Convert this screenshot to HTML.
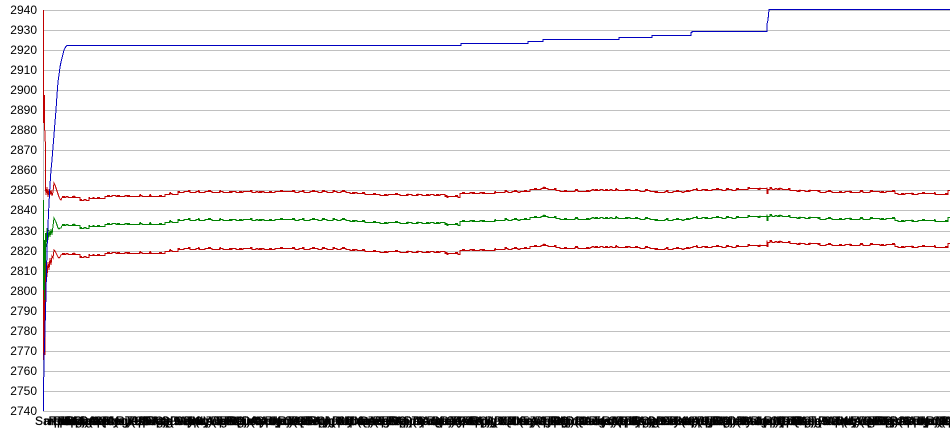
<!DOCTYPE html>
<html>
<head>
<meta charset="utf-8">
<style>
html,body{margin:0;padding:0;background:#fff;}
body{width:950px;height:435px;overflow:hidden;}
svg{display:block;font-family:"Liberation Sans",Arial,sans-serif;}
</style>
</head>
<body>
<svg width="950" height="435" viewBox="0 0 950 435" xmlns="http://www.w3.org/2000/svg">
<defs>
<clipPath id="plot"><rect x="42" y="9" width="908" height="404"/></clipPath>
<path id="u1" fill="none" d="M62,197.5 H66 V196.5 H68 V197.5 H74 V196.5 H75 V197.5 H80 V200.5 H84 V199.5 H86 V200.5 H89 V198.5 H93 V197.5 H94 V198.5 H105 V196.5 H112 V195.5 H116 V196.5 H125 V195.5 H127 V196.5 H140 V195.5 H142 V196.5 H150 V195.5 H151 V196.5 H165 V194.5 H170 V193.5 H172 V194.5 H178 V192.5 H184 V191.5 H190 V192.5 H196 V191.5 H199 V192.5 H205 V191.5 H212 V192.5 H220 V191.5 H223 V192.5 H232 V191.5 H236 V192.5 H243 V191.5 H252 V192.5 H256 V191.5 H258 V192.5 H262 V191.5 H264 V192.5 H275 V191.5 H295 V192.5 H299 V191.5 H304 V192.5 H310 V191.5 H318 V192.5 H322 V191.5 H327 V192.5 H333 V191.5 H337 V192.5 H341 V191.5 H346 V192.5 H350 V193.5 H355 V192.5 H357 V193.5 H365 V194.5 H380 V195.5 H388 V194.5 H400 V195.5 H408 V194.5 H412 V195.5 H418 V194.5 H422 V195.5 H430 V194.5 H434 V195.5 H440 V194.5 H445 V196.5 H447 V197.5 H448 V196.5 H458 V197.5 H460 V193.5 H470 V192.5 H472 V193.5 H480 V192.5 H482 V193.5 H495 V192.5 H505 V191.5 H508 V192.5 H512 V191.5 H518 V192.5 H520 V191.5 H530 V189.5 H541 V188.5 H543 V187.5 H544 V188.5 H548 V189.5 H556 V190.5 H560 V191.5 H575 V190.5 H578 V191.5 H590 V190.5 H592 V189.5 H594 V190.5 H600 V189.5 H603 V190.5 H610 V189.5 H612 V190.5 H616 V189.5 H618 V190.5 H628 V189.5 H630 V190.5 H640 V191.5 H645 V190.5 H650 V191.5 H655 V192.5 H665 V191.5 H668 V192.5 H673 V191.5 H682 V192.5 H684 V191.5 H690 V190.5 H693 V189.5 H697 V190.5 H702 V189.5 H705 V190.5 H712 V189.5 H722 V190.5 H726 V189.5 H732 V190.5 H736 V189.5 H748 V188.5 H758 V189.5 H760 V188.5 H767"/>
<path id="u2" fill="none" d="M767,188.5 V193.5 H768 V189.5 H770 V188.5 H772 V189.5 H775 V188.5 H777 V189.5 H780 V188.5 H782 V189.5 H790 V190.5 H797 V191.5 H800 V190.5 H805 V191.5 H810 V190.5 H818 V191.5 H820 V192.5 H826 V191.5 H832 V192.5 H845 V191.5 H850 V192.5 H860 V191.5 H863 V192.5 H870 V191.5 H880 V192.5 H886 V191.5 H895 V193.5 H898 V194.5 H905 V193.5 H912 V194.5 H918 V193.5 H935 V194.5 H948 V190.5 H950"/>
</defs>

<!-- gridlines -->
<g stroke="#c0c0c0" stroke-width="1" shape-rendering="crispEdges">
<line x1="43" x2="950" y1="10.5" y2="10.5"/>
<line x1="43" x2="950" y1="30.5" y2="30.5"/>
<line x1="43" x2="950" y1="50.5" y2="50.5"/>
<line x1="43" x2="950" y1="70.5" y2="70.5"/>
<line x1="43" x2="950" y1="90.5" y2="90.5"/>
<line x1="43" x2="950" y1="110.5" y2="110.5"/>
<line x1="43" x2="950" y1="130.5" y2="130.5"/>
<line x1="43" x2="950" y1="150.5" y2="150.5"/>
<line x1="43" x2="950" y1="170.5" y2="170.5"/>
<line x1="43" x2="950" y1="190.5" y2="190.5"/>
<line x1="43" x2="950" y1="210.5" y2="210.5"/>
<line x1="43" x2="950" y1="231.5" y2="231.5"/>
<line x1="43" x2="950" y1="251.5" y2="251.5"/>
<line x1="43" x2="950" y1="271.5" y2="271.5"/>
<line x1="43" x2="950" y1="291.5" y2="291.5"/>
<line x1="43" x2="950" y1="311.5" y2="311.5"/>
<line x1="43" x2="950" y1="331.5" y2="331.5"/>
<line x1="43" x2="950" y1="351.5" y2="351.5"/>
<line x1="43" x2="950" y1="371.5" y2="371.5"/>
<line x1="43" x2="950" y1="391.5" y2="391.5"/>
<line x1="43" x2="950" y1="411.5" y2="411.5"/>
<line x1="43.5" x2="43.5" y1="10" y2="412"/>
</g>

<!-- y labels -->
<g font-size="12" fill="#000" text-anchor="end">
<text x="37" y="14">2940</text>
<text x="37" y="34">2930</text>
<text x="37" y="54">2920</text>
<text x="37" y="74">2910</text>
<text x="37" y="94">2900</text>
<text x="37" y="114">2890</text>
<text x="37" y="134">2880</text>
<text x="37" y="154">2870</text>
<text x="37" y="174">2860</text>
<text x="37" y="194">2850</text>
<text x="37" y="214">2840</text>
<text x="37" y="235">2830</text>
<text x="37" y="255">2820</text>
<text x="37" y="275">2810</text>
<text x="37" y="295">2800</text>
<text x="37" y="315">2790</text>
<text x="37" y="335">2780</text>
<text x="37" y="355">2770</text>
<text x="37" y="375">2760</text>
<text x="37" y="395">2750</text>
<text x="37" y="415">2740</text>
</g>

<!-- series -->
<g clip-path="url(#plot)" fill="none" stroke-width="1" shape-rendering="crispEdges">
<!-- green -->
<g stroke="#008000">
<path d="M43.5,200 L43.5,337 L44.5,240 L45,300 L45.5,233 L46,247 L47,228 L48,240 L49,230 L50,237 L51,229 L52,235 L53,226 L54,218 L55,220 L56,222 L57,225 L58,228 L59,229 L60,228 L61,228 L62,225.5"/>
<use href="#u1" transform="translate(0,28)"/>
<use href="#u2" transform="translate(0,27)"/>
<use href="#u1" transform="translate(0,27)" stroke-dasharray="3 9"/>
<use href="#u2" transform="translate(0,26)" stroke-dasharray="3 9"/>
</g>
<!-- lower red -->
<g stroke="#c00000">
<path d="M43.5,290 L43.5,360 L44.5,300 L45,355 L45.5,290 L46,263 L47,277 L48,262 L49,270 L50,258 L51,265 L52,256 L53,258 L54,250 L55,251 L56,253 L57,255 L58,257 L59,258 L60,257 L61,255 L62,254.5"/>
<use href="#u1" transform="translate(0,57)"/>
<use href="#u2" transform="translate(0,53)"/>
<use href="#u1" transform="translate(0,56)" stroke-dasharray="3 9"/>
<use href="#u2" transform="translate(0,52)" stroke-dasharray="3 9"/>
</g>
<!-- upper red -->
<g stroke="#c00000">
<path d="M43.5,122 L44.5,100 L44.5,125 L45.5,147 L45.5,188 L46,195 L47,187 L48,197 L49,189 L50,195 L51,190 L52,196 L53,192 L54,183 L55,185 L56,188 L57,191 L58,194 L59,197 L60,199 L61,200 L62,197.5"/>
<use href="#u1"/>
<use href="#u2"/>
<use href="#u1" transform="translate(0,-1)" stroke-dasharray="3 9"/>
<use href="#u2" transform="translate(0,-1)" stroke-dasharray="3 9"/>
</g>
<!-- blue -->
<path stroke="#0000c0" d="M43.5,411 L43.5,395 L44,360 L45,330 L46,293 L47,250 L48,225 L49,203 L50,185 L51,170 L52,160 L53,147 L54,135 L55,122 L56,110 L57,95 L58,82 L59,75 L60,67 L61,62 L62,58 L63,54 L64,50 L65,48 L66,46.5 L67,45.5 H461 V43.5 H528 V41.5 H543 V39.5 H619 V37.5 H652 V35.5 H691 V32.5 H692 V31.5 H767 V24 L768,20 L769,9.5 H950"/>
</g>

<!-- x labels (overlapping) -->
<g font-size="12" fill="#000" stroke="#000" stroke-width="0.25">
<text x="35" y="425">Sample</text>
<text x="44" y="425">mple Run</text>
<text x="53" y="425">Run 1</text>
<text x="62" y="425">Update</text>
<text x="71" y="425">Aug 09</text>
<text x="80" y="425">Data</text>
<text x="89" y="425">Apply</text>
<text x="98" y="425">Query</text>
<text x="107" y="425">Aug 09</text>
<text x="116" y="425">Run 2</text>
<text x="125" y="425">Test</text>
<text x="134" y="425">Update</text>
<text x="143" y="425">Data</text>
<text x="152" y="425">Aug 09</text>
<text x="161" y="425">Query</text>
<text x="170" y="425">Run 3</text>
<text x="179" y="425">Apply</text>
<text x="188" y="425">Data</text>
<text x="197" y="425">Update</text>
<text x="206" y="425">Aug 09</text>
<text x="215" y="425">Test</text>
<text x="224" y="425">Run 4</text>
<text x="233" y="425">Query</text>
<text x="242" y="425">Data</text>
<text x="251" y="425">Apply</text>
<text x="260" y="425">Aug 09</text>
<text x="269" y="425">Update</text>
<text x="278" y="425">Run 5</text>
<text x="287" y="425">Test</text>
<text x="296" y="425">Query</text>
<text x="305" y="425">Data</text>
<text x="314" y="425">Aug 09</text>
<text x="323" y="425">Apply</text>
<text x="332" y="425">Run 6</text>
<text x="341" y="425">Update</text>
<text x="350" y="425">Data</text>
<text x="359" y="425">Query</text>
<text x="368" y="425">Aug 09</text>
<text x="377" y="425">Test</text>
<text x="386" y="425">Run 7</text>
<text x="395" y="425">Apply</text>
<text x="404" y="425">Data</text>
<text x="413" y="425">Update</text>
<text x="422" y="425">Aug 09</text>
<text x="431" y="425">Query</text>
<text x="440" y="425">Run 8</text>
<text x="449" y="425">Test</text>
<text x="458" y="425">Data</text>
<text x="467" y="425">Apply</text>
<text x="476" y="425">Aug 09</text>
<text x="485" y="425">Update</text>
<text x="494" y="425">Run 9</text>
<text x="503" y="425">Query</text>
<text x="512" y="425">Data</text>
<text x="521" y="425">Test</text>
<text x="530" y="425">Aug 09</text>
<text x="539" y="425">Apply</text>
<text x="548" y="425">Run 10</text>
<text x="557" y="425">Update</text>
<text x="566" y="425">Data</text>
<text x="575" y="425">Query</text>
<text x="584" y="425">Aug 09</text>
<text x="593" y="425">Test</text>
<text x="602" y="425">Run 11</text>
<text x="611" y="425">Apply</text>
<text x="620" y="425">Data</text>
<text x="629" y="425">Update</text>
<text x="638" y="425">Aug 09</text>
<text x="647" y="425">Query</text>
<text x="656" y="425">Run 12</text>
<text x="665" y="425">Test</text>
<text x="674" y="425">Data</text>
<text x="683" y="425">Apply</text>
<text x="692" y="425">Aug 09</text>
<text x="701" y="425">Update</text>
<text x="710" y="425">Run 13</text>
<text x="719" y="425">Query</text>
<text x="728" y="425">Data</text>
<text x="737" y="425">Test</text>
<text x="746" y="425">Aug 09</text>
<text x="755" y="425">Apply</text>
<text x="764" y="425">Run 14</text>
<text x="773" y="425">Update</text>
<text x="782" y="425">Data</text>
<text x="791" y="425">Query</text>
<text x="800" y="425">Aug 09</text>
<text x="809" y="425">Test</text>
<text x="818" y="425">Run 15</text>
<text x="827" y="425">Apply</text>
<text x="836" y="425">Data</text>
<text x="845" y="425">Update</text>
<text x="854" y="425">Aug 09</text>
<text x="863" y="425">Query</text>
<text x="872" y="425">Run 16</text>
<text x="881" y="425">Test</text>
<text x="890" y="425">Data</text>
<text x="899" y="425">Apply</text>
<text x="908" y="425">Aug 09</text>
<text x="917" y="425">Update</text>
<text x="926" y="425">Run 17</text>
<text x="935" y="425">Query</text>
<text x="942" y="425">Data</text>
</g>
<g font-size="12" fill="#000" stroke="#000" stroke-width="0.25">
<text x="48.5" y="425">RpE</text>
<text x="57.5" y="425">FRC</text>
<text x="66.5" y="425">Rpi</text>
<text x="75.5" y="425">gjo</text>
<text x="84.5" y="425">)(9</text>
<text x="93.5" y="425">Col</text>
<text x="102.5" y="425">Rna</text>
<text x="111.5" y="425">l(oj</text>
<text x="120.5" y="425">o)(9</text>
<text x="129.5" y="425">RpE</text>
<text x="138.5" y="425">FRC</text>
<text x="147.5" y="425">Rpi</text>
<text x="156.5" y="425">gjo</text>
<text x="165.5" y="425">)(9</text>
<text x="174.5" y="425">Col</text>
<text x="183.5" y="425">Rna</text>
<text x="192.5" y="425">l(oj</text>
<text x="201.5" y="425">o)(9</text>
<text x="210.5" y="425">RpE</text>
<text x="219.5" y="425">FRC</text>
<text x="228.5" y="425">Rpi</text>
<text x="237.5" y="425">gjo</text>
<text x="246.5" y="425">)(9</text>
<text x="255.5" y="425">Col</text>
<text x="264.5" y="425">Rna</text>
<text x="273.5" y="425">l(oj</text>
<text x="282.5" y="425">o)(9</text>
<text x="291.5" y="425">RpE</text>
<text x="300.5" y="425">FRC</text>
<text x="309.5" y="425">Rpi</text>
<text x="318.5" y="425">gjo</text>
<text x="327.5" y="425">)(9</text>
<text x="336.5" y="425">Col</text>
<text x="345.5" y="425">Rna</text>
<text x="354.5" y="425">l(oj</text>
<text x="363.5" y="425">o)(9</text>
<text x="372.5" y="425">RpE</text>
<text x="381.5" y="425">FRC</text>
<text x="390.5" y="425">Rpi</text>
<text x="399.5" y="425">gjo</text>
<text x="408.5" y="425">)(9</text>
<text x="417.5" y="425">Col</text>
<text x="426.5" y="425">Rna</text>
<text x="435.5" y="425">l(oj</text>
<text x="444.5" y="425">o)(9</text>
<text x="453.5" y="425">RpE</text>
<text x="462.5" y="425">FRC</text>
<text x="471.5" y="425">Rpi</text>
<text x="480.5" y="425">gjo</text>
<text x="489.5" y="425">)(9</text>
<text x="498.5" y="425">Col</text>
<text x="507.5" y="425">Rna</text>
<text x="516.5" y="425">l(oj</text>
<text x="525.5" y="425">o)(9</text>
<text x="534.5" y="425">RpE</text>
<text x="543.5" y="425">FRC</text>
<text x="552.5" y="425">Rpi</text>
<text x="561.5" y="425">gjo</text>
<text x="570.5" y="425">)(9</text>
<text x="579.5" y="425">Col</text>
<text x="588.5" y="425">Rna</text>
<text x="597.5" y="425">l(oj</text>
<text x="606.5" y="425">o)(9</text>
<text x="615.5" y="425">RpE</text>
<text x="624.5" y="425">FRC</text>
<text x="633.5" y="425">Rpi</text>
<text x="642.5" y="425">gjo</text>
<text x="651.5" y="425">)(9</text>
<text x="660.5" y="425">Col</text>
<text x="669.5" y="425">Rna</text>
<text x="678.5" y="425">l(oj</text>
<text x="687.5" y="425">o)(9</text>
<text x="696.5" y="425">RpE</text>
<text x="705.5" y="425">FRC</text>
<text x="714.5" y="425">Rpi</text>
<text x="723.5" y="425">gjo</text>
<text x="732.5" y="425">)(9</text>
<text x="741.5" y="425">Col</text>
<text x="750.5" y="425">Rna</text>
<text x="759.5" y="425">l(oj</text>
<text x="768.5" y="425">o)(9</text>
<text x="777.5" y="425">RpE</text>
<text x="786.5" y="425">FRC</text>
<text x="795.5" y="425">Rpi</text>
<text x="804.5" y="425">gjo</text>
<text x="813.5" y="425">)(9</text>
<text x="822.5" y="425">Col</text>
<text x="831.5" y="425">Rna</text>
<text x="840.5" y="425">l(oj</text>
<text x="849.5" y="425">o)(9</text>
<text x="858.5" y="425">RpE</text>
<text x="867.5" y="425">FRC</text>
<text x="876.5" y="425">Rpi</text>
<text x="885.5" y="425">gjo</text>
<text x="894.5" y="425">)(9</text>
<text x="903.5" y="425">Col</text>
<text x="912.5" y="425">Rna</text>
<text x="921.5" y="425">l(oj</text>
<text x="930.5" y="425">o)(9</text>
<text x="939.5" y="425">RpE</text>
</g>

<!-- top-left red drop segment (drawn last) -->
<rect x="43" y="10" width="1" height="113" fill="#c00000"/>
<rect x="44" y="95" width="1" height="30" fill="#c00000"/>
</svg>
</body>
</html>
